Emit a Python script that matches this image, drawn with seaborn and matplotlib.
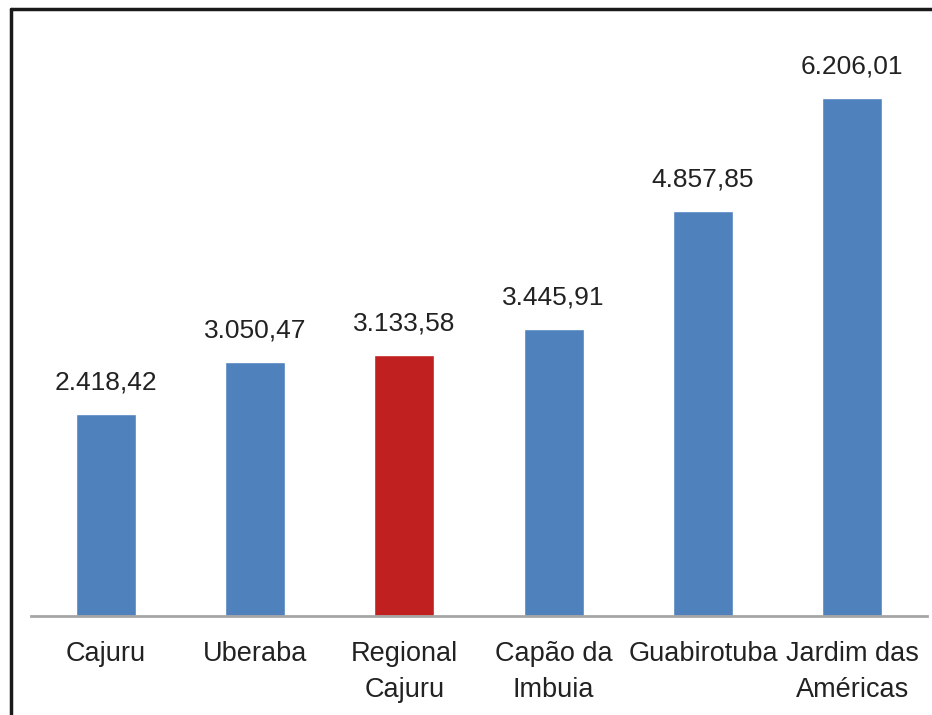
import matplotlib
matplotlib.use("Agg")
import matplotlib.pyplot as plt
import seaborn as sns
import pandas as pd
from matplotlib.lines import Line2D
from matplotlib import font_manager

categories = ["Cajuru", "Uberaba", "Regional\nCajuru", "Capão da\nImbuia", "Guabirotuba", "Jardim das\nAméricas"]
values = [2418.42, 3050.47, 3133.58, 3445.91, 4857.85, 6206.01]
labels = ["2.418,42", "3.050,47", "3.133,58", "3.445,91", "4.857,85", "6.206,01"]
colors = ["#4F81BD", "#4F81BD", "#C0201F", "#4F81BD", "#4F81BD", "#4F81BD"]

sns.set_theme(style="white")
names = {f.name for f in font_manager.fontManager.ttflist}
fam = "Liberation Sans Narrow" if "Liberation Sans Narrow" in names else "Liberation Sans"
plt.rcParams["font.family"] = [fam, "DejaVu Sans"]

df = pd.DataFrame({"cat": categories, "val": values})
fig = plt.figure(figsize=(9.32, 7.15), dpi=100)
ax = fig.add_axes([31/932, 1-616/715, (927-31)/932, (616-32)/715])
sns.barplot(data=df, x="cat", y="val", hue="cat", palette=colors, legend=False,
            width=0.4, ax=ax, saturation=1)
ax.set_xlim(-0.5, 5.5)
ax.set_ylim(0, 7000)
for i, (v, l) in enumerate(zip(values, labels)):
    ax.annotate(l, (i, v), xytext=(0, 14), textcoords="offset points",
                ha="center", va="bottom", fontsize=19, color="#222222")
ax.set_xlabel("")
ax.set_ylabel("")
ax.set_yticks([])
ax.tick_params(axis="x", length=0, pad=18, labelsize=19.5, labelcolor="#222222")
for t in ax.get_xticklabels():
    t.set_linespacing(1.5)
for s in ["top", "right", "left"]:
    ax.spines[s].set_visible(False)
ax.spines["bottom"].set_color("#A6A6A6")
ax.spines["bottom"].set_linewidth(2)

fig.add_artist(Line2D([11/932, 11/932], [0, 1-9/715], transform=fig.transFigure, color="#1a1a1a", lw=2.5))
fig.add_artist(Line2D([11/932, 1], [1-9/715, 1-9/715], transform=fig.transFigure, color="#1a1a1a", lw=2.5))
fig.savefig("out.png", dpi=100)
